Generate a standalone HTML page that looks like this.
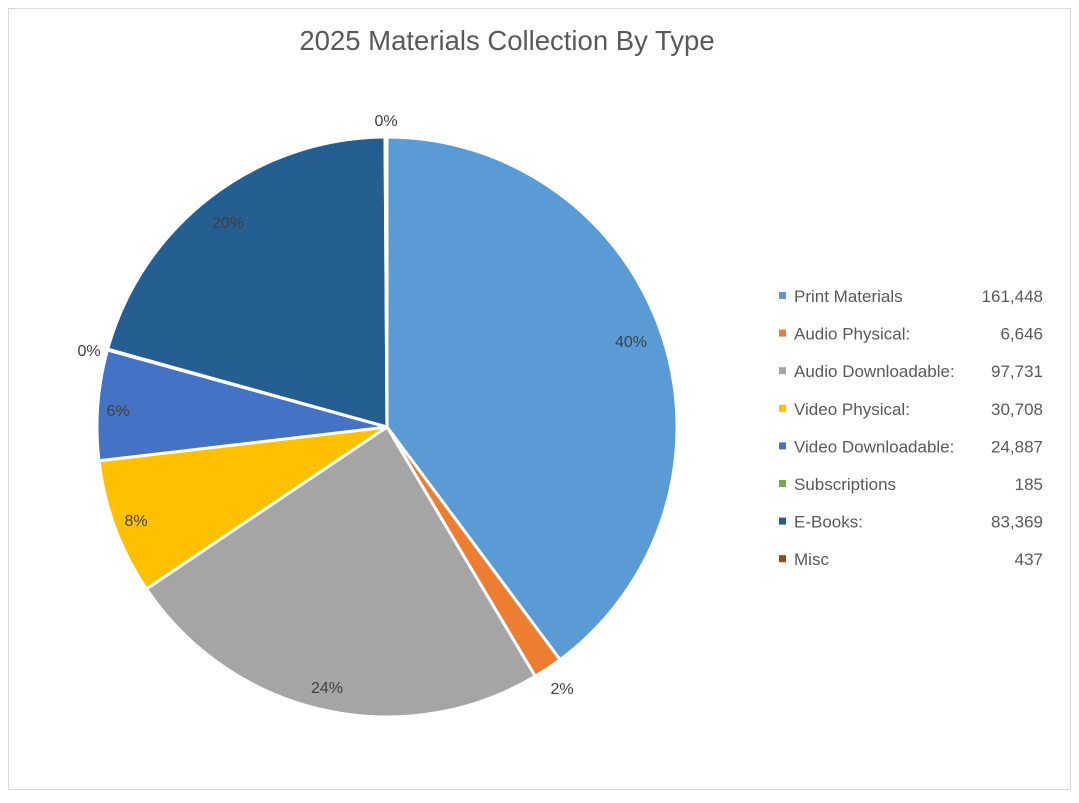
<!DOCTYPE html>
<html><head><meta charset="utf-8"><style>
body{margin:0;background:#fff;}
svg text{font-family:"Liberation Sans",sans-serif;fill:#404040;}
</style></head><body>
<svg width="1079" height="798" viewBox="0 0 1079 798" xmlns="http://www.w3.org/2000/svg">
<rect x="0" y="0" width="1079" height="798" fill="#fff"/>
<rect x="8.5" y="8.5" width="1062" height="781" fill="none" stroke="#d9d9d9" stroke-width="1"/>
<text x="507" y="50" text-anchor="middle" font-size="27.5" style="fill:#595959">2025 Materials Collection By Type</text>
<g id="pie"></g>
<g font-size="16">
<text x="631" y="347" text-anchor="middle">40%</text>
<text x="562" y="694" text-anchor="middle">2%</text>
<text x="327" y="693" text-anchor="middle">24%</text>
<text x="136" y="526" text-anchor="middle">8%</text>
<text x="118" y="416" text-anchor="middle">6%</text>
<text x="89" y="356" text-anchor="middle">0%</text>
<text x="228" y="228" text-anchor="middle">20%</text>
<text x="386" y="126" text-anchor="middle">0%</text>
</g>
<g id="legend" font-size="17"></g>
<script>
var data=[["Print Materials",161448,"#5B9BD5","161,448"],["Audio Physical:",6646,"#ED7D31","6,646"],["Audio Downloadable:",97731,"#A5A5A5","97,731"],["Video Physical:",30708,"#FFC000","30,708"],["Video Downloadable:",24887,"#4472C4","24,887"],["Subscriptions",185,"#70AD47","185"],["E-Books:",83369,"#255E91","83,369"],["Misc",437,"#9E480E","437"]];
var tot=0;data.forEach(function(d){tot+=d[1];});
var cx=387,cy=427,r=290,a=0,ns="http://www.w3.org/2000/svg";
var pie=document.getElementById("pie"),lg=document.getElementById("legend");
data.forEach(function(d,i){
 var a2=a+d[1]/tot*2*Math.PI;
 var x1=cx+r*Math.sin(a),y1=cy-r*Math.cos(a),x2=cx+r*Math.sin(a2),y2=cy-r*Math.cos(a2);
 var p=document.createElementNS(ns,"path");
 p.setAttribute("d","M"+cx+","+cy+" L"+x1+","+y1+" A"+r+","+r+" 0 "+((a2-a)>Math.PI?1:0)+" 1 "+x2+","+y2+" Z");
 p.setAttribute("fill",d[2]);p.setAttribute("stroke","#fff");p.setAttribute("stroke-width","3");p.setAttribute("stroke-linejoin","round");
 pie.appendChild(p);a=a2;
 var y=296+i*37.6;
 var s=document.createElementNS(ns,"rect");s.setAttribute("x",779);s.setAttribute("y",y-4);s.setAttribute("width",7);s.setAttribute("height",7);s.setAttribute("fill",d[2]);lg.appendChild(s);
 var t=document.createElementNS(ns,"text");t.setAttribute("x",794);t.setAttribute("y",y+6);t.textContent=d[0];t.setAttribute("style","fill:#595959");lg.appendChild(t);
 var v=document.createElementNS(ns,"text");v.setAttribute("x",1043);v.setAttribute("y",y+6);v.setAttribute("text-anchor","end");v.textContent=d[3];v.setAttribute("style","fill:#595959");lg.appendChild(v);
});
</script>
</svg>
</body></html>
